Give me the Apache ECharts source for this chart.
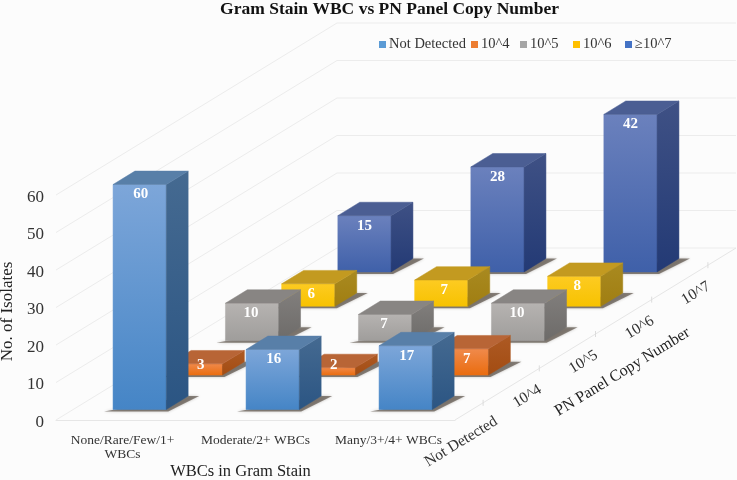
<!DOCTYPE html>
<html>
<head>
<meta charset="utf-8">
<style>
  html, body { margin: 0; padding: 0; background: #fcfcfc; }
  #chart { width: 737px; height: 480px; }
</style>
<script src="https://cdn.jsdelivr.net/npm/echarts@6/dist/echarts.min.js"></script>
</head>
<body>
<div id="chart"></div>
<script>
const wbcCategories = ['None/Rare/Few/1+\nWBCs', 'Moderate/2+ WBCs', 'Many/3+/4+ WBCs']
const copyLevels = ['Not Detected', '10^4', '10^5', '10^6', '≥10^7']
const depthLabels = ['Not Detected', '10^4', '10^5', '10^6', '10^7']
const notDetected = [60, 16, 17]
const copy4 = [3, 2, 7]
const copy5 = [10, 7, 10]
const copy6 = [6, 7, 8]
const copy7 = [15, 28, 42]
const valueTicks = [0, 10, 20, 30, 40, 50, 60]

const FONT = '"Liberation Serif", serif'
// oblique projection: how far one depth row moves on screen
const DEPTH_DX = 56.2
const DEPTH_DY = 34.4
const BAR_WIDTH = 0.4 // of a category band
const BAR_DEPTH = 0.39 // of a depth row
const ANGLE = 31.5 * Math.PI / 180

const rows = [notDetected, copy4, copy5, copy6, copy7]
const legendColors = ['#5b9bd5', '#ed7d31', '#a5a5a5', '#ffc000', '#4472c4']
const legendLefts = [379, 471, 520, 573, 625]
const faceColors = [
  { front: ['#7da6d9', '#4585c6'], side: ['#456a91', '#2b5583'], top: '#587fa8' },
  { front: ['#f08a4c', '#ea6c0e'], side: ['#ad5a24', '#a34c12'], top: '#b86536' },
  { front: ['#b6b3b1', '#9f9d9b'], side: ['#827f7d', '#6d6b69'], top: '#888583' },
  { front: ['#fdcb22', '#f7c200'], side: ['#a98a20', '#a07e12'], top: '#c39a20' },
  { front: ['#6b81bd', '#3f60a9'], side: ['#3f5185', '#233a75'], top: '#4b5e93' }
]
// the value labels sit in the visible part of the front face
const labelShift = [1, 5, -1, 3, 0]

function gradient (pair) {
  return new echarts.graphic.LinearGradient(0, 0, 0, 1, [
    { offset: 0, color: pair[0] },
    { offset: 1, color: pair[1] }
  ])
}

// cat is a category position, value on the y axis, depth in rows from the front
function project (api, cat, value, depth) {
  const p = api.coord([0, value])
  const band = api.size([1, 0])[0]
  return [p[0] + cat * band + depth * DEPTH_DX, p[1] - depth * DEPTH_DY]
}

function renderBar (params, api) {
  const cat = api.value(0)
  const value = api.value(1)
  const row = api.value(2)
  const colors = faceColors[row]
  const l = cat - BAR_WIDTH / 2
  const r = cat + BAR_WIDTH / 2
  const f = row + 0.5 - BAR_DEPTH / 2
  const b = row + 0.5 + BAR_DEPTH / 2

  const fl0 = project(api, l, 0, f)
  const fr0 = project(api, r, 0, f)
  const br0 = project(api, r, 0, b)
  const fl = project(api, l, value, f)
  const fr = project(api, r, value, f)
  const br = project(api, r, value, b)
  const bl = project(api, l, value, b)

  const poly = (points, fill, stroke) => ({
    type: 'polygon',
    shape: { points },
    style: { fill, stroke: stroke || fill, lineWidth: 0.5 }
  })

  const shadow = {
    type: 'polygon',
    shape: {
      points: [
        [fl0[0] - 9, fl0[1] + 2],
        [fr0[0] + 2, fr0[1] + 2],
        [br0[0] + 11, br0[1]],
        [br0[0], br0[1]]
      ]
    },
    style: {
      fill: 'rgba(70,60,50,0.6)',
      shadowBlur: 3,
      shadowColor: 'rgba(70,60,50,0.5)'
    }
  }

  const labelY = Math.min(fl[1] + 10, fl0[1] - 10)
  return {
    type: 'group',
    children: [
      shadow,
      poly([fl, fr, fr0, fl0], gradient(colors.front)),
      poly([fr, br, br0, fr0], gradient(colors.side)),
      poly([fl, bl, br, fr], colors.top),
      {
        type: 'text',
        style: {
          x: (fl[0] + fr[0]) / 2 + labelShift[row],
          y: labelY,
          text: String(value),
          fill: '#fff',
          font: 'bold 15px ' + FONT,
          align: 'center',
          verticalAlign: 'middle'
        }
      }
    ]
  }
}

// wall and back grid lines, one per value tick
function renderGridLine (params, api) {
  const v = api.value(0)
  const a = project(api, -0.5, v, 0)
  const b = project(api, -0.5, v, depthLabels.length)
  const c = project(api, 2.5, v, depthLabels.length)
  return {
    type: 'polyline',
    shape: { points: [a, b, c] },
    style: { fill: 'none', stroke: '#ececec', lineWidth: 1 }
  }
}

// depth axis: right floor edge, its ticks and labels
function renderDepthAxis (params, api) {
  const i = api.value(0)
  const tick = project(api, 2.5, 0, i + 0.5)
  const children = [
    {
      type: 'line',
      shape: { x1: tick[0], y1: tick[1] - 3, x2: tick[0], y2: tick[1] + 3 },
      style: { stroke: '#dcdcdc', lineWidth: 1 }
    },
    {
      type: 'text',
      x: tick[0] + (i === 0 ? -22 : -12),
      y: tick[1] + (i === 0 ? 39 : 28),
      rotation: ANGLE,
      style: {
        text: depthLabels[i],
        font: '15.5px ' + FONT,
        fill: '#333',
        align: 'center',
        verticalAlign: 'middle'
      }
    }
  ]
  if (i === 0) {
    const start = project(api, 2.5, 0, 0)
    const end = project(api, 2.5, 0, depthLabels.length)
    const mid = project(api, 2.5, 0, 2.5)
    children.unshift({
      type: 'line',
      shape: { x1: start[0], y1: start[1], x2: end[0], y2: end[1] },
      style: { stroke: '#e6e6e6', lineWidth: 1 }
    })
    children.push({
      type: 'text',
      x: mid[0] + 27,
      y: mid[1] + 38,
      rotation: ANGLE,
      style: {
        text: 'PN Panel Copy Number',
        font: '16px ' + FONT,
        fill: '#222',
        align: 'center',
        verticalAlign: 'middle'
      }
    })
  }
  return { type: 'group', children }
}

const chart = echarts.init(document.getElementById('chart'), null, { renderer: 'canvas' })

const barSeries = copyLevels.map((name, row) => ({
  name,
  type: 'custom',
  coordinateSystem: 'cartesian2d',
  renderItem: renderBar,
  encode: { x: 0, y: 1 },
  z: 10 + copyLevels.length - row,
  itemStyle: { color: legendColors[row] },
  data: rows[row].map((v, cat) => [cat, v, row])
}))

chart.setOption({
  animation: false,
  backgroundColor: '#fcfcfc',
  title: {
    text: 'Gram Stain WBC vs PN Panel Copy Number',
    left: 389.5,
    textAlign: 'center',
    top: 0,
    padding: 0,
    textStyle: { fontFamily: FONT, fontSize: 17.5, fontWeight: 'bold', color: '#111' }
  },
  // one legend per entry, the gaps in the original are uneven
  legend: copyLevels.map((name, i) => ({
    left: legendLefts[i],
    top: 37,
    padding: 0,
    icon: 'rect',
    itemWidth: 7,
    itemHeight: 7,
    data: [name],
    textStyle: { fontFamily: FONT, fontSize: 14.5, color: '#333', padding: [0, 0, 0, -2] }
  })),
  grid: { left: 56, top: 195, width: 399, height: 225, outerBoundsMode: 'none' },
  xAxis: {
    type: 'category',
    data: wbcCategories,
    axisLine: { lineStyle: { color: '#e6e6e6' } },
    axisTick: { show: false },
    axisLabel: {
      fontFamily: FONT,
      fontSize: 13.5,
      lineHeight: 14,
      color: '#333',
      margin: 13,
      interval: 0
    },
    name: 'WBCs in Gram Stain',
    nameLocation: 'middle',
    nameGap: 43,
    nameTextStyle: { fontFamily: FONT, fontSize: 16.5, color: '#222', padding: [0, 30, 0, 0] }
  },
  yAxis: {
    type: 'value',
    min: 0,
    max: 60,
    interval: 10,
    axisLine: { show: false },
    axisTick: { show: false },
    splitLine: { show: false },
    axisLabel: {
      fontFamily: FONT,
      fontSize: 17,
      color: '#333',
      margin: 12,
      verticalAlign: 'top',
      lineHeight: 5
    },
    name: 'No. of Isolates',
    nameLocation: 'middle',
    nameGap: 34,
    nameTextStyle: { fontFamily: FONT, fontSize: 17, color: '#222', padding: [0, 8, 0, 0] }
  },
  series: [
    {
      type: 'custom',
      coordinateSystem: 'cartesian2d',
      renderItem: renderGridLine,
      encode: { y: 0 },
      silent: true,
      z: 1,
      data: valueTicks.map(v => [v])
    },
    {
      type: 'custom',
      coordinateSystem: 'cartesian2d',
      renderItem: renderDepthAxis,
      encode: { x: 1 },
      silent: true,
      z: 2,
      data: depthLabels.map((_, i) => [i, 0])
    }
  ].concat(barSeries)
})
</script>
</body>
</html>
